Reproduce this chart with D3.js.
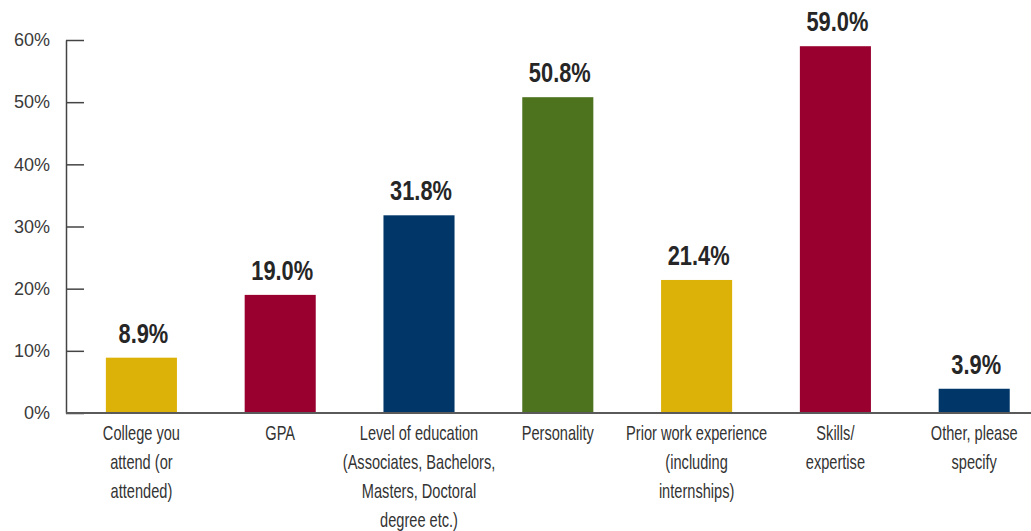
<!DOCTYPE html>
<html>
<head>
<meta charset="utf-8">
<script src="https://cdn.jsdelivr.net/npm/d3@7"></script>
<style>
  body { margin: 0; background: #fff; }
  .tick text { font-family: "Liberation Sans", Arial, sans-serif; font-size: 18px; fill: #3a3a3a; }
  .label--value { font-family: "Liberation Sans", Arial, sans-serif; font-size: 28px; font-weight: bold; fill: #262626; }
  .label--cat { font-family: "Liberation Sans", Arial, sans-serif; font-size: 20px; fill: #333; }
</style>
</head>
<body>
<script>
// chart data
const categories = ["College", "GPA", "Level", "Personality", "Prior", "Skills", "Other"];
const categoryLines = [
  ["College you", "attend (or", "attended)"],
  ["GPA"],
  ["Level of education", "(Associates, Bachelors,", "Masters, Doctoral", "degree etc.)"],
  ["Personality"],
  ["Prior work experience", "(including", "internships)"],
  ["Skills/", "expertise"],
  ["Other, please", "specify"]
];
const values = [8.9, 19.0, 31.8, 50.8, 21.4, 59.0, 3.9];
const barColors = ["#dcb208", "#990030", "#003668", "#4d731f", "#dcb208", "#990030", "#003668"];
const yTicks = [0, 10, 20, 30, 40, 50, 60];

const width = 1031;
const height = 531;
const squeezeValue = 0.78; // condensed look for the labels
const squeezeCat = 0.73;

const svg = d3.select("body").append("svg")
    .attr("width", width)
    .attr("height", height);

// scales
const xScale = d3.scaleBand().domain(categories)
    .range([72, 1043.6])
    .paddingInner(0.488)
    .paddingOuter(0.244);
const yScale = d3.scaleLinear().domain([0, 60]).range([413, 40]);
const xMid = d => xScale(d) + xScale.bandwidth() / 2;

// y axis, ticks point inward
svg.append("g").attr("class", "axis axis--y")
    .attr("transform", "translate(66,0)")
    .call(d3.axisLeft(yScale).tickValues(yTicks).tickFormat(d => d + "%")
        .tickSizeInner(-18).tickSizeOuter(0).tickPadding(16))
    .call(g => g.selectAll("line, path").attr("stroke", "#444").attr("stroke-width", 1.5));

// bars
svg.append("g").attr("class", "bars")
    .selectAll("rect").data(values)
  .enter().append("rect")
    .attr("x", (d, i) => xScale(categories[i]))
    .attr("width", xScale.bandwidth())
    .attr("y", d => yScale(d))
    .attr("height", d => yScale(0) - yScale(d))
    .attr("fill", (d, i) => barColors[i]);

// baseline
svg.append("line")
    .attr("x1", 66).attr("x2", width)
    .attr("y1", yScale(0)).attr("y2", yScale(0))
    .attr("stroke", "#5a5a5a").attr("stroke-width", 2);

// value labels
svg.append("g")
    .selectAll("text").data(values)
  .enter().append("text")
    .attr("class", "label--value")
    .attr("text-anchor", "middle")
    .attr("transform", (d, i) => `translate(${xMid(categories[i]) + 2},${yScale(d) - 15}) scale(${squeezeValue},1)`)
    .text(d => d.toFixed(1) + "%");

// category labels
const cat = svg.append("g")
    .selectAll("text").data(categories)
  .enter().append("text")
    .attr("class", "label--cat")
    .attr("text-anchor", "middle")
    .attr("transform", d => `translate(${xMid(d)},440) scale(${squeezeCat},1)`);

cat.selectAll("tspan").data((d, i) => categoryLines[i])
  .enter().append("tspan")
    .attr("x", 0)
    .attr("y", (d, i) => i * 29)
    .text(d => d);
</script>
</body>
</html>
